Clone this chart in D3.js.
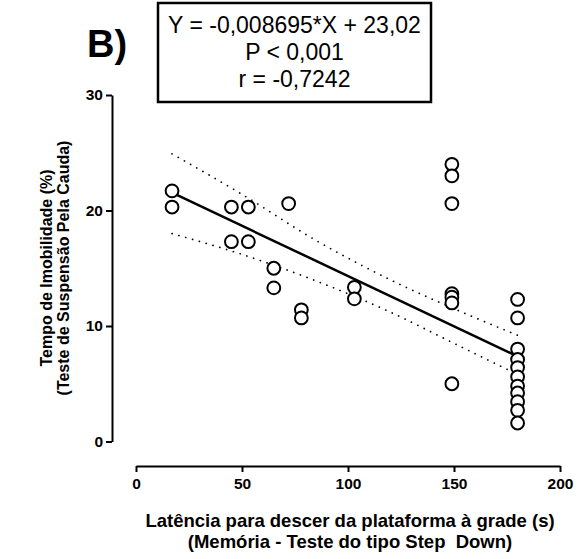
<!DOCTYPE html>
<html>
<head>
<meta charset="utf-8">
<script src="https://cdn.jsdelivr.net/npm/d3@7"></script>
<style>
  html, body { margin: 0; padding: 0; background: #fff; }
  svg { display: block; font-family: Arial, "Liberation Sans", sans-serif; }
  .axis path, .axis line { stroke: #000; stroke-width: 2; }
  .axis text { font-size: 15.5px; font-weight: bold; fill: #000; font-family: Arial, "Liberation Sans", sans-serif; }
</style>
</head>
<body>
<svg id="chart" width="583" height="559"></svg>
<script>
// Latency to step down (s) and immobility time (%) for each animal
const latency = [17, 17, 45, 53, 45, 53, 72, 65, 65, 78, 78, 103, 103,
  149, 149, 149, 149, 149, 149, 149,
  180, 180, 180, 180, 180, 180, 180, 180, 180, 180, 180];
const immobility = [21.7, 20.3, 20.3, 20.3, 17.3, 17.3, 20.6, 15.0, 13.3, 11.4, 10.7, 13.35, 12.35,
  24.0, 23.0, 20.6, 12.8, 12.5, 12.0, 5.0,
  12.3, 10.7, 8.0, 7.1, 6.4, 5.6, 4.8, 4.2, 3.45, 2.7, 1.6];

// Fitted regression line and its 95% confidence band
const fitSlope = -0.08695;
const fitIntercept = 23.02;
const fitRange = [17, 180];
const bandX = [17, 50, 85, 120, 150, 180];
const bandUpper = [24.9, 21.4, 17.4, 14.0, 11.5, 9.2];
const bandLower = [18.0, 16.2, 13.9, 11.2, 8.5, 5.8];

const xTicks = [0, 50, 100, 150, 200];
const yTicks = [0, 10, 20, 30];
const statsLines = ["Y = -0,008695*X + 23,02", "P < 0,001", "r = -0,7242"];

const svg = d3.select("#chart");

const x = d3.scaleLinear().domain([0, 200]).range([136, 560]);
const y = d3.scaleLinear().domain([0, 30]).range([441.5, 95]);

// Axes, offset from the plotting area
svg.append("g").attr("class", "axis")
  .attr("transform", "translate(112,0)")
  .call(d3.axisLeft(y).tickValues(yTicks).tickSize(6).tickSizeOuter(0).tickPadding(3));

svg.append("g").attr("class", "axis")
  .attr("transform", "translate(0,466)")
  .call(d3.axisBottom(x).tickValues(xTicks).tickSize(6).tickSizeOuter(0).tickPadding(6));

// Confidence band (dotted)
const bandLine = d3.line().curve(d3.curveMonotoneX);
[bandUpper, bandLower].forEach(vals => {
  svg.append("path")
    .attr("d", bandLine(bandX.map((v, i) => [x(v), y(vals[i])])))
    .attr("fill", "none")
    .attr("stroke", "#000")
    .attr("stroke-width", 1.7)
    .attr("stroke-linecap", "round")
    .attr("stroke-dasharray", "0.1,7");
});

// Regression line
svg.append("line")
  .attr("x1", x(fitRange[0])).attr("y1", y(fitIntercept + fitSlope * fitRange[0]))
  .attr("x2", x(fitRange[1])).attr("y2", y(fitIntercept + fitSlope * fitRange[1]))
  .attr("stroke", "#000").attr("stroke-width", 2.5);

// Data points
svg.append("g").selectAll("circle")
  .data(latency.map((v, i) => ({ x: v, y: immobility[i] })))
  .join("circle")
  .attr("cx", d => x(d.x))
  .attr("cy", d => y(d.y))
  .attr("r", 6.4)
  .attr("fill", "#fff")
  .attr("stroke", "#000")
  .attr("stroke-width", 2);

// Axis titles
const xTitle = svg.append("text")
  .attr("text-anchor", "middle")
  .attr("font-size", 18.5)
  .attr("font-weight", "bold")
  .attr("xml:space", "preserve")
  .style("white-space", "pre");
xTitle.append("tspan").attr("x", 350).attr("y", 526.5)
  .text("Latência para descer da plataforma à grade (s)");
xTitle.append("tspan").attr("x", 350).attr("y", 548)
  .text("(Memória - Teste do tipo Step  Down)");

const yTitle = svg.append("text")
  .attr("text-anchor", "middle")
  .attr("font-size", 16)
  .attr("font-weight", "bold")
  .attr("transform", "rotate(-90)");
yTitle.append("tspan").attr("x", -268).attr("y", 52)
  .text("Tempo de Imobilidade (%)");
yTitle.append("tspan").attr("x", -268).attr("y", 69)
  .text("(Teste de Suspensão Pela Cauda)");

// Panel letter
svg.append("text")
  .attr("x", 87).attr("y", 57)
  .attr("font-size", 38)
  .attr("font-weight", "bold")
  .text("B)");

// Regression statistics box
svg.append("rect")
  .attr("x", 158).attr("y", 3)
  .attr("width", 273).attr("height", 99)
  .attr("fill", "#fff")
  .attr("stroke", "#000")
  .attr("stroke-width", 2.5);

svg.append("g").selectAll("text")
  .data(statsLines)
  .join("text")
  .attr("x", 294.5)
  .attr("y", (d, i) => 33 + i * 27)
  .attr("text-anchor", "middle")
  .attr("font-size", 23)
  .text(d => d);
</script>
</body>
</html>
